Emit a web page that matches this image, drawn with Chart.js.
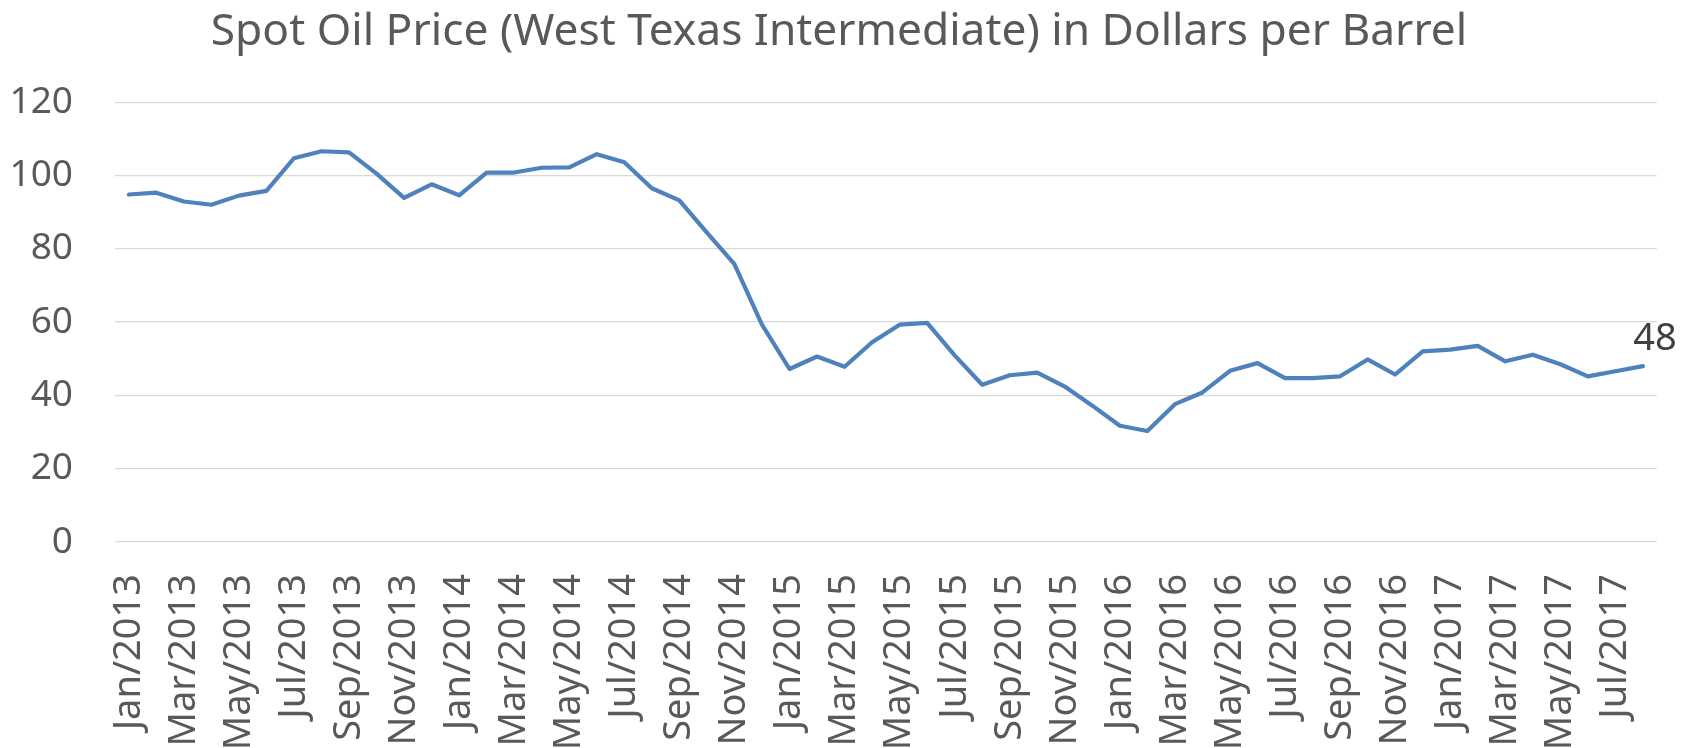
<!DOCTYPE html>
<html>
<head>
<meta charset="utf-8">
<script src="https://cdn.jsdelivr.net/npm/chart.js@4/dist/chart.umd.min.js"></script>
<style>
  html, body { margin: 0; padding: 0; background: #ffffff; }
  #wrap { width: 1694px; height: 748px; position: relative; }
</style>
</head>
<body>
<div id="wrap"><canvas id="c" width="1694" height="748"></canvas></div>
<script>
const categories = [
  "Jan/2013","Feb/2013","Mar/2013","Apr/2013","May/2013","Jun/2013","Jul/2013","Aug/2013","Sep/2013","Oct/2013","Nov/2013","Dec/2013",
  "Jan/2014","Feb/2014","Mar/2014","Apr/2014","May/2014","Jun/2014","Jul/2014","Aug/2014","Sep/2014","Oct/2014","Nov/2014","Dec/2014",
  "Jan/2015","Feb/2015","Mar/2015","Apr/2015","May/2015","Jun/2015","Jul/2015","Aug/2015","Sep/2015","Oct/2015","Nov/2015","Dec/2015",
  "Jan/2016","Feb/2016","Mar/2016","Apr/2016","May/2016","Jun/2016","Jul/2016","Aug/2016","Sep/2016","Oct/2016","Nov/2016","Dec/2016",
  "Jan/2017","Feb/2017","Mar/2017","Apr/2017","May/2017","Jun/2017","Jul/2017","Aug/2017"
];
const wtiPrice = [
  94.8, 95.3, 92.9, 92.0, 94.5, 95.8, 104.7, 106.6, 106.3, 100.5, 93.9, 97.6,
  94.6, 100.8, 100.8, 102.1, 102.2, 105.8, 103.6, 96.5, 93.2, 84.4, 75.8, 59.3,
  47.2, 50.6, 47.8, 54.5, 59.3, 59.8, 50.9, 42.9, 45.5, 46.2, 42.4, 37.2,
  31.7, 30.3, 37.6, 40.8, 46.7, 48.8, 44.7, 44.7, 45.2, 49.8, 45.7, 52.0,
  52.5, 53.5, 49.3, 51.1, 48.5, 45.2, 46.6, 48.0
];
const yTicks = [0, 20, 40, 60, 80, 100, 120];
const titleText = "Spot Oil Price (West Texas Intermediate) in Dollars per Barrel";
const lastLabel = "48";

const FONT = "'Noto Sans', sans-serif";
const TEXT = "#595959";

const lastValueLabel = {
  id: 'lastValueLabel',
  afterDatasetsDraw(chart) {
    const meta = chart.getDatasetMeta(0);
    const pt = meta.data[meta.data.length - 1];
    const ctx = chart.ctx;
    ctx.save();
    ctx.font = "38px " + FONT;
    ctx.fillStyle = "#404040";
    ctx.textAlign = "center";
    ctx.textBaseline = "middle";
    ctx.fillText(lastLabel, pt.x + 12, pt.y - 27);
    ctx.restore();
  }
};

new Chart(document.getElementById('c'), {
  type: 'line',
  data: {
    labels: categories,
    datasets: [{
      data: wtiPrice,
      yAxisID: 'y',
      borderColor: '#4F81BD',
      backgroundColor: '#4F81BD',
      borderWidth: 4.2,
      pointRadius: 0,
      pointHoverRadius: 0,
      tension: 0,
      fill: false,
      borderJoinStyle: 'round',
      borderCapStyle: 'round'
    }]
  },
  options: {
    responsive: false,
    animation: false,
    devicePixelRatio: 1,
    layout: { padding: { left: 0, right: 16, top: 0, bottom: 0 } },
    plugins: {
      legend: { display: false },
      tooltip: { enabled: false },
      title: {
        display: true,
        text: titleText,
        color: TEXT,
        font: { family: FONT, size: 44.3, weight: 'normal' },
        padding: { top: 6, bottom: 43 }
      }
    },
    scales: {
      x: {
        type: 'category',
        offset: true,
        grid: { display: false, drawTicks: false },
        border: { display: false },
        afterFit(scale) { scale.height = 206; },
        ticks: {
          autoSkip: false,
          maxRotation: 90,
          minRotation: 90,
          padding: 32,
          color: TEXT,
          font: { family: FONT, size: 38 },
          callback(val, idx) { return idx % 2 === 0 ? categories[idx] : null; }
        }
      },
      y: {
        position: 'left',
        min: 0,
        max: 120,
        afterFit(scale) { scale.width = 115; },
        afterBuildTicks(scale) { scale.ticks = yTicks.map(v => ({ value: v })); },
        grid: { color: '#D9D9D9', lineWidth: 1.3, drawTicks: false },
        border: { display: false },
        ticks: {
          padding: 42,
          color: TEXT,
          font: { family: FONT, size: 37 }
        }
      },
      yRight: {
        position: 'right',
        min: 0,
        max: 120,
        afterFit(scale) { scale.width = 21; },
        grid: { display: false, drawTicks: false },
        border: { display: false },
        ticks: { display: false }
      }
    }
  },
  plugins: [lastValueLabel]
});
</script>
</body>
</html>
